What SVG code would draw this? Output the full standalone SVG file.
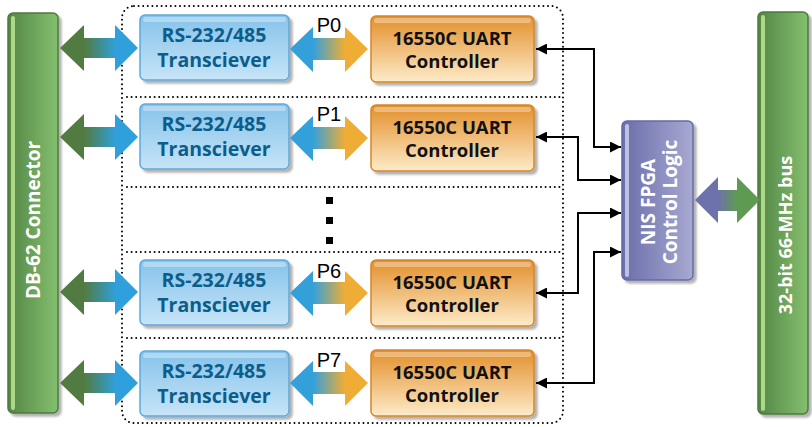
<svg xmlns="http://www.w3.org/2000/svg" width="812" height="427" viewBox="0 0 812 427">
<defs>
<linearGradient id="gBar" x1="0" y1="0" x2="1" y2="0"><stop offset="0" stop-color="#538645"/><stop offset="1" stop-color="#84bf6f"/></linearGradient>
<linearGradient id="gBlue" x1="0" y1="0" x2="0" y2="1"><stop offset="0" stop-color="#86c3ea"/><stop offset="1" stop-color="#c6e4f7"/></linearGradient>
<linearGradient id="gOrange" x1="0" y1="0" x2="0" y2="1"><stop offset="0" stop-color="#e38f2a"/><stop offset="1" stop-color="#fdebc9"/></linearGradient>
<linearGradient id="gPurple" x1="0" y1="0" x2="1" y2="0"><stop offset="0" stop-color="#6a6eaa"/><stop offset="1" stop-color="#a7a9d1"/></linearGradient>
<linearGradient id="gArrL" gradientUnits="userSpaceOnUse" x1="84" y1="0" x2="116" y2="0"><stop offset="0" stop-color="#527b41"/><stop offset="1" stop-color="#2fa0db"/></linearGradient>
<linearGradient id="gArrM" gradientUnits="userSpaceOnUse" x1="313" y1="0" x2="345" y2="0"><stop offset="0" stop-color="#34a0da"/><stop offset="1" stop-color="#efad35"/></linearGradient>
<linearGradient id="gArrR" gradientUnits="userSpaceOnUse" x1="718" y1="0" x2="737" y2="0"><stop offset="0" stop-color="#6d72ad"/><stop offset="1" stop-color="#5f9a53"/></linearGradient>
<filter id="sh" x="-10%" y="-10%" width="130%" height="130%"><feGaussianBlur in="SourceAlpha" stdDeviation="1.2"/><feOffset dx="3" dy="3" result="b"/><feComponentTransfer><feFuncA type="linear" slope="0.3"/></feComponentTransfer><feMerge><feMergeNode/><feMergeNode in="SourceGraphic"/></feMerge></filter>
<marker id="ah" viewBox="0 0 10 10" refX="10" refY="5" markerWidth="11" markerHeight="11" markerUnits="userSpaceOnUse" orient="auto-start-reverse"><path d="M0,0 L10,5 L0,10 z" fill="#000"/></marker>
</defs>
<style>
.bar{fill:url(#gBar);stroke:#4c7a3c;stroke-width:1.5}
.hl{fill:#b6e08f;opacity:0.9}
.tx{fill:url(#gBlue);stroke:#5ea8dc;stroke-width:1.5}
.ua{fill:url(#gOrange);stroke:#d4862a;stroke-width:1.5}
.fp{fill:url(#gPurple);stroke:#666aa6;stroke-width:1.5}
.top{fill:#ffffff;opacity:0.35}
.dot{fill:none;stroke:#000;stroke-width:2;stroke-dasharray:0 4.6;stroke-linecap:round}
.b{font-family:"Open Sans","Noto Sans",sans-serif;font-weight:bold;font-size:18px;text-anchor:middle}
.tb{fill:#0b5d8c;font-size:19.5px}
.tk{fill:#111;font-size:18.5px}
.tw{fill:#fff}
.pl{font-family:"Liberation Sans",Arial,sans-serif;font-size:20px;text-anchor:middle;fill:#000}
.con{fill:none;stroke:#000;stroke-width:2;marker-start:url(#ah);marker-end:url(#ah)}
</style>
<rect width="812" height="427" fill="#fff"/>

<g id="outline">
<rect class="dot" x="122" y="6" width="441" height="417" rx="12"/>
<path class="dot" d="M127 97 H561 M127 187 H561 M127 252 H561 M127 338 H561"/>
<rect x="326" y="197" width="7" height="7" fill="#000"/>
<rect x="326" y="217" width="7" height="7" fill="#000"/>
<rect x="326" y="237" width="7" height="7" fill="#000"/>
</g>

<g id="db62">
<rect class="bar" x="8" y="13" width="50" height="400" rx="5" filter="url(#sh)"/>
<rect class="hl" x="11" y="16" width="4" height="394" rx="2"/>
<text class="b tw" style="font-size:19px" transform="translate(40,220) rotate(-90)">DB-62 Connector</text>
</g>

<g id="bus">
<rect class="bar" x="758" y="12" width="50" height="402" rx="5" filter="url(#sh)"/>
<rect class="hl" x="761" y="15" width="4" height="396" rx="2"/>
<text class="b tw" transform="translate(792,235) rotate(-90)">32-bit 66-MHz bus</text>
</g>

<g id="fpga">
<rect class="fp" x="622" y="121" width="71" height="159" rx="5" filter="url(#sh)"/>
<rect x="625" y="124" width="4" height="153" rx="2" fill="#d4d5ec" opacity="0.8"/>
<text class="b tw" style="font-size:19px" transform="translate(655,202) rotate(-90)">NIS FPGA</text>
<text class="b tw" style="font-size:19px" transform="translate(677,202) rotate(-90)">Control Logic</text>
</g>

<g id="row0">
<rect class="tx" x="140" y="15" width="149" height="65" rx="5" filter="url(#sh)"/>
<rect class="top" x="143" y="17" width="143" height="5" rx="2.5"/>
<text class="b tb" x="214" y="42">RS-232/485</text>
<text class="b tb" x="214" y="67">Transciever</text>
<rect class="ua" x="371" y="16" width="163" height="66" rx="5" filter="url(#sh)"/>
<rect class="top" x="374" y="18" width="157" height="5" rx="2.5"/>
<text class="b tk" x="452" y="45">16550C UART</text>
<text class="b tk" x="452" y="68">Controller</text>
</g>

<g id="row1">
<rect class="tx" x="140" y="104" width="149" height="65" rx="5" filter="url(#sh)"/>
<rect class="top" x="143" y="106" width="143" height="5" rx="2.5"/>
<text class="b tb" x="214" y="131">RS-232/485</text>
<text class="b tb" x="214" y="156">Transciever</text>
<rect class="ua" x="371" y="105" width="163" height="66" rx="5" filter="url(#sh)"/>
<rect class="top" x="374" y="107" width="157" height="5" rx="2.5"/>
<text class="b tk" x="452" y="134">16550C UART</text>
<text class="b tk" x="452" y="157">Controller</text>
</g>

<g id="row6">
<rect class="tx" x="140" y="260" width="149" height="65" rx="5" filter="url(#sh)"/>
<rect class="top" x="143" y="262" width="143" height="5" rx="2.5"/>
<text class="b tb" x="214" y="287">RS-232/485</text>
<text class="b tb" x="214" y="312">Transciever</text>
<rect class="ua" x="371" y="260" width="163" height="66" rx="5" filter="url(#sh)"/>
<rect class="top" x="374" y="262" width="157" height="5" rx="2.5"/>
<text class="b tk" x="452" y="289">16550C UART</text>
<text class="b tk" x="452" y="312">Controller</text>
</g>

<g id="row7">
<rect class="tx" x="140" y="351" width="149" height="65" rx="5" filter="url(#sh)"/>
<rect class="top" x="143" y="353" width="143" height="5" rx="2.5"/>
<text class="b tb" x="214" y="378">RS-232/485</text>
<text class="b tb" x="214" y="403">Transciever</text>
<rect class="ua" x="371" y="350" width="163" height="66" rx="5" filter="url(#sh)"/>
<rect class="top" x="374" y="352" width="157" height="5" rx="2.5"/>
<text class="b tk" x="452" y="379">16550C UART</text>
<text class="b tk" x="452" y="402">Controller</text>
</g>

<g id="connectors">
<polygon fill="url(#gArrL)" points="60,48 84,25 84,38 115,38 115,25 138,48 115,71 115,58 84,58 84,71"/>
<polygon fill="url(#gArrL)" points="60,137 84,114 84,127 115,127 115,114 138,137 115,160 115,147 84,147 84,160"/>
<polygon fill="url(#gArrL)" points="60,292 84,269 84,282 115,282 115,269 138,292 115,315 115,302 84,302 84,315"/>
<polygon fill="url(#gArrL)" points="60,383 84,360 84,373 115,373 115,360 138,383 115,406 115,393 84,393 84,406"/>

<polygon fill="url(#gArrM)" points="290,49 313,27 313,38 345,38 345,27 368,49 345,72 345,60 313,60 313,72"/>
<polygon fill="url(#gArrM)" points="290,138 313,116 313,127 345,127 345,116 368,138 345,161 345,149 313,149 313,161"/>
<polygon fill="url(#gArrM)" points="290,293 313,271 313,282 345,282 345,271 368,293 345,316 345,304 313,304 313,316"/>
<polygon fill="url(#gArrM)" points="290,383 313,361 313,372 345,372 345,361 368,383 345,406 345,394 313,394 313,406"/>
<text class="pl" x="329" y="32">P0</text>
<text class="pl" x="329" y="121">P1</text>
<text class="pl" x="329" y="278">P6</text>
<text class="pl" x="329" y="367">P7</text>

<polygon fill="url(#gArrR)" points="695,200 718,177 718,190 737,190 737,177 760,200 737,223 737,211 718,211 718,223"/>

<path class="con" d="M536 49 H594 V147 H621"/>
<path class="con" d="M536 137 H578 V180 H621"/>
<path class="con" d="M536 293 H578 V213 H621"/>
<path class="con" d="M536 383 H594 V252 H621"/>
</g>
</svg>
